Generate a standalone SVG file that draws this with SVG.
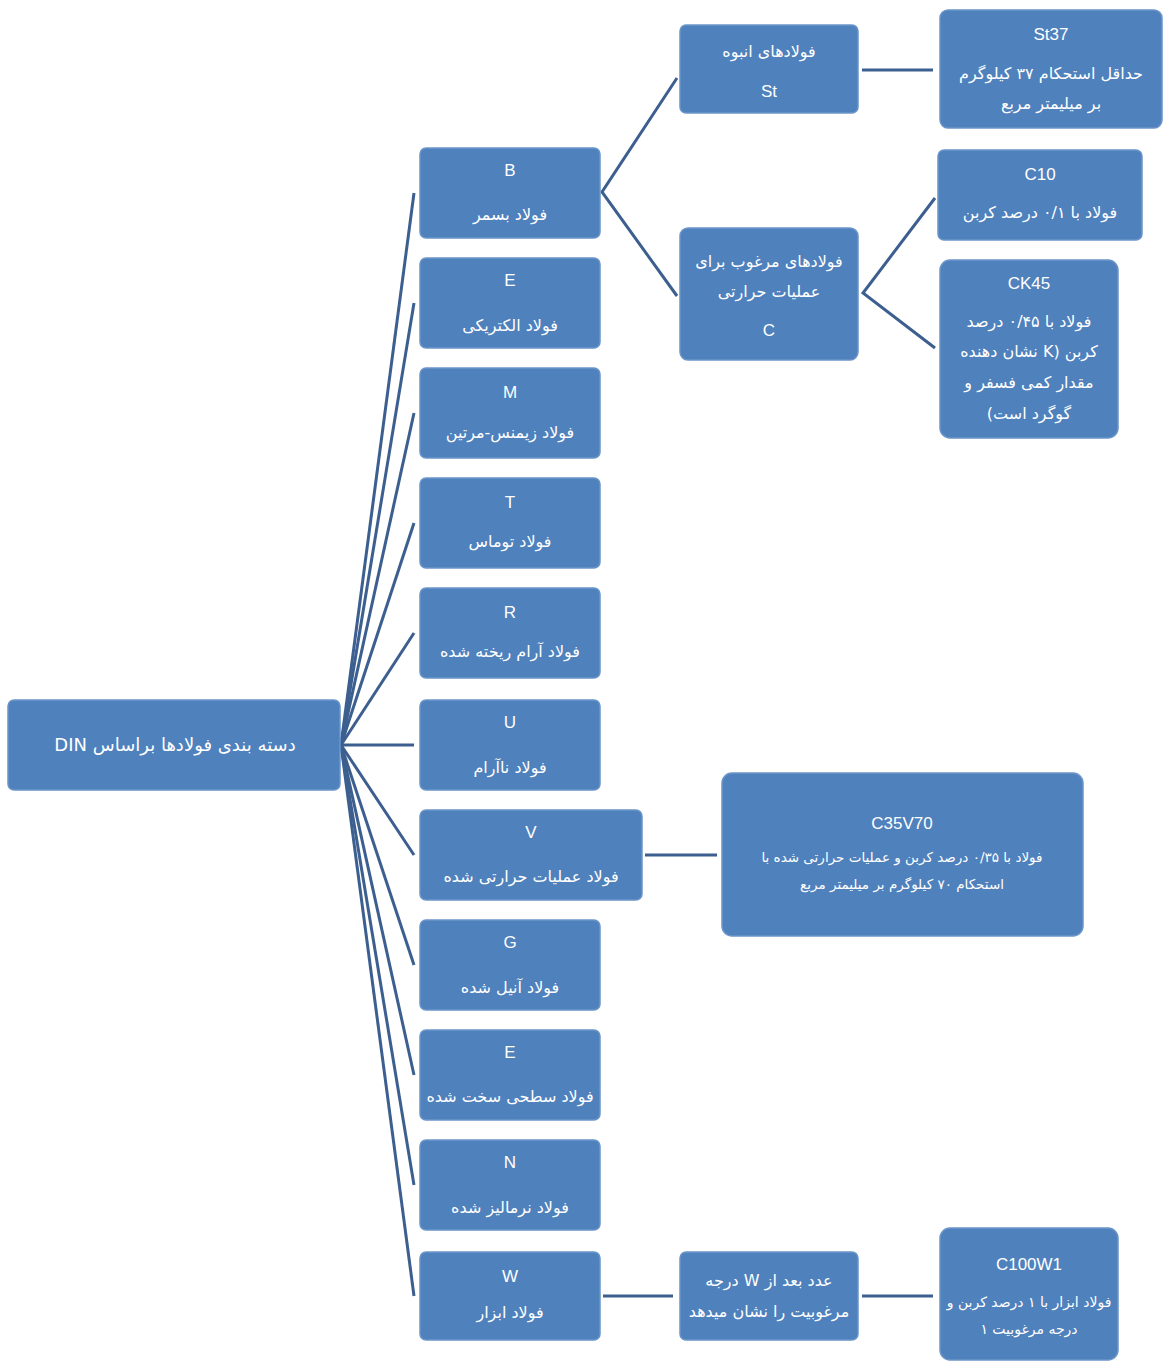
<svg xmlns="http://www.w3.org/2000/svg" width="1165" height="1363" viewBox="0 0 1165 1363">
<style>
.box{fill:#4f81bd;stroke:#6b95c8;stroke-width:1.5}
.lat{font-family:"Liberation Sans","DejaVu Sans",sans-serif;font-size:17px;fill:#ffffff;text-anchor:middle}
.fa{font-family:"DejaVu Sans",sans-serif;font-size:16px;fill:#ffffff;text-anchor:middle;direction:rtl}
.fa.big{font-size:18px}
.fa.sm{font-size:13.5px}
.fa.sm2{font-size:14px}
.con{fill:none;stroke:#3c5f8f;stroke-width:3}
</style>
<rect width="1165" height="1363" fill="#ffffff"/>
<g id="connectors">
<path class="con" d="M341 745 L414 193"/>
<path class="con" d="M341 745 L414 303"/>
<path class="con" d="M341 745 L414 413"/>
<path class="con" d="M341 745 L414 523"/>
<path class="con" d="M341 745 L414 633"/>
<path class="con" d="M341 745 L414 745"/>
<path class="con" d="M341 745 L414 855"/>
<path class="con" d="M341 745 L414 965"/>
<path class="con" d="M341 745 L414 1075"/>
<path class="con" d="M341 745 L414 1185"/>
<path class="con" d="M341 745 L414 1296"/>
<path class="con" d="M677 78 L602 192 L677 296"/>
<path class="con" d="M862 70 L933 70"/>
<path class="con" d="M935 198 L863 293 L935 348"/>
<path class="con" d="M645 855 L717 855"/>
<path class="con" d="M603 1296 L673 1296"/>
<path class="con" d="M862 1296 L933 1296"/>
</g>
<g id="root"><rect class="box" x="8" y="700" width="332" height="90" rx="6"/><text class="fa big" x="175" y="751">دسته بندی فولادها براساس  DIN</text></g>
<g id="nB"><rect class="box" x="420" y="148" width="180" height="90" rx="6"/><text class="lat" x="510" y="176">B</text><text class="fa" x="510" y="220">فولاد بسمر</text></g>
<g id="nE1"><rect class="box" x="420" y="258" width="180" height="90" rx="6"/><text class="lat" x="510" y="286">E</text><text class="fa" x="510" y="331">فولاد الکتریکی</text></g>
<g id="nM"><rect class="box" x="420" y="368" width="180" height="90" rx="6"/><text class="lat" x="510" y="398">M</text><text class="fa" x="510" y="438">فولاد زیمنس-مرتین</text></g>
<g id="nT"><rect class="box" x="420" y="478" width="180" height="90" rx="6"/><text class="lat" x="510" y="508">T</text><text class="fa" x="510" y="547">فولاد توماس</text></g>
<g id="nR"><rect class="box" x="420" y="588" width="180" height="90" rx="6"/><text class="lat" x="510" y="618">R</text><text class="fa" x="510" y="657">فولاد آرام ریخته شده</text></g>
<g id="nU"><rect class="box" x="420" y="700" width="180" height="90" rx="6"/><text class="lat" x="510" y="728">U</text><text class="fa" x="510" y="773">فولاد ناآرام</text></g>
<g id="nV"><rect class="box" x="420" y="810" width="222" height="90" rx="6"/><text class="lat" x="531" y="838">V</text><text class="fa" x="531" y="882">فولاد عملیات حرارتی شده</text></g>
<g id="nG"><rect class="box" x="420" y="920" width="180" height="90" rx="6"/><text class="lat" x="510" y="948">G</text><text class="fa" x="510" y="993">فولاد آنیل شده</text></g>
<g id="nE2"><rect class="box" x="420" y="1030" width="180" height="90" rx="6"/><text class="lat" x="510" y="1058">E</text><text class="fa" x="510" y="1102">فولاد سطحی سخت شده</text></g>
<g id="nN"><rect class="box" x="420" y="1140" width="180" height="90" rx="6"/><text class="lat" x="510" y="1168">N</text><text class="fa" x="510" y="1213">فولاد نرمالیز شده</text></g>
<g id="nW"><rect class="box" x="420" y="1252" width="180" height="88" rx="6"/><text class="lat" x="510" y="1282">W</text><text class="fa" x="510" y="1318">فولاد ابزار</text></g>
<g id="nSt"><rect class="box" x="680" y="25" width="178" height="88" rx="6"/><text class="fa" x="769" y="57">فولادهای انبوه</text><text class="lat" x="769" y="97">St</text></g>
<g id="nSt37"><rect class="box" x="940" y="10" width="222" height="118" rx="8"/><text class="lat" x="1051" y="40">St37</text><text class="fa" x="1051" y="79">حداقل استحکام ۳۷  کیلوگرم</text><text class="fa" x="1051" y="109">بر میلیمتر مربع</text></g>
<g id="nC"><rect class="box" x="680" y="228" width="178" height="132" rx="8"/><text class="fa" x="769" y="267">فولادهای مرغوب برای</text><text class="fa" x="769" y="297">عملیات حرارتی</text><text class="lat" x="769" y="336">C</text></g>
<g id="nC10"><rect class="box" x="938" y="150" width="204" height="90" rx="6"/><text class="lat" x="1040" y="180">C10</text><text class="fa" x="1040" y="218">فولاد با ۰/۱ درصد کربن</text></g>
<g id="nCK45"><rect class="box" x="940" y="260" width="178" height="178" rx="10"/><text class="lat" x="1029" y="289">CK45</text><text class="fa" x="1029" y="327">فولاد با ۰/۴۵ درصد</text><text class="fa" x="1029" y="357">کربن (K نشان دهنده</text><text class="fa" x="1029" y="388">مقدار کمی فسفر و</text><text class="fa" x="1029" y="419">گوگرد است)</text></g>
<g id="nC35V70"><rect class="box" x="722" y="773" width="361" height="163" rx="10"/><text class="lat" x="902" y="829">C35V70</text><text class="fa sm" x="902" y="862">فولاد با ۰/۳۵ درصد کربن و عملیات حرارتی شده با</text><text class="fa sm" x="902" y="889">استحکام ۷۰ کیلوگرم بر میلیمتر مربع</text></g>
<g id="nWdesc"><rect class="box" x="680" y="1252" width="178" height="88" rx="6"/><text class="fa" x="769" y="1286">عدد بعد از W درجه</text><text class="fa" x="769" y="1317">مرغوبیت را نشان میدهد</text></g>
<g id="nC100W1"><rect class="box" x="940" y="1228" width="178" height="132" rx="10"/><text class="lat" x="1029" y="1270">C100W1</text><text class="fa sm2" x="1029" y="1307">فولاد ابزار با ۱ درصد کربن و</text><text class="fa sm2" x="1029" y="1334">درجه مرغوبیت ۱</text></g>
</svg>
